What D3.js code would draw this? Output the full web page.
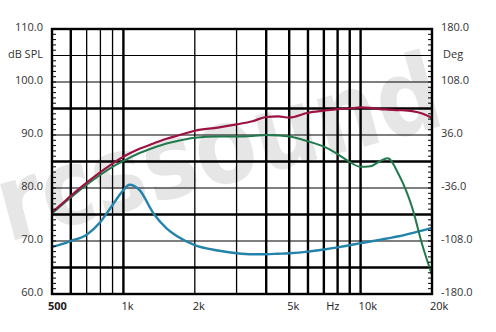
<!DOCTYPE html>
<html>
<head>
<meta charset="utf-8">
<script src="https://cdn.jsdelivr.net/npm/d3@7"></script>
<style>
  body { margin: 0; background: #fff; }
  svg { display: block; }
  text { font-family: "Open Sans", "DejaVu Sans", sans-serif; }
</style>
</head>
<body>
<div id="chart"></div>
<script>
// frequency grid (Hz) shared by all three curves
var freqs = [500, 550, 600, 700, 800, 900, 1000, 1060, 1170, 1340, 1520, 1700, 2000, 2500, 3000, 3500,
             4000, 4500, 5000, 6000, 7000, 8000, 9000, 10000, 11000, 12000, 13000, 14500, 16500, 18300, 20000];

var redSpl = [75.4, 77.0, 78.5, 81.0, 83.0, 84.6, 85.9, 86.5, 87.4, 88.4, 89.3, 89.9, 90.8, 91.4, 92.0, 92.6,
              93.4, 93.5, 93.3, 94.2, 94.6, 94.9, 95.0, 95.2, 95.1, 94.9, 94.8, 94.7, 94.5, 94.0, 93.2];

var greenSpl = [75.2, 76.8, 78.2, 80.6, 82.5, 84.0, 85.1, 85.7, 86.6, 87.6, 88.4, 88.9, 89.5, 89.7, 89.7, 89.8,
                90.0, 89.9, 89.7, 88.8, 87.8, 86.4, 84.9, 84.0, 84.1, 85.0, 85.6, 82.5, 76.3, 68.9, 63.6];

var blueSpl = [68.9, 69.4, 70.0, 71.2, 73.6, 76.8, 79.6, 80.6, 79.6, 75.2, 72.4, 70.8, 69.2, 68.2, 67.7, 67.5,
               67.5, 67.6, 67.7, 68.0, 68.4, 68.8, 69.2, 69.6, 69.9, 70.2, 70.5, 70.9, 71.5, 72.0, 72.5];

var leftTicks = [110, 100, 90, 80, 70, 60];
var rightTicks = [180, 108, 36, -36, -108, -180];
var xLabels = ["500", "1k", "2k", "5k", "Hz", "10k", "20k"];
var xLabelFreqs = [500, 1000, 2000, 5000, 7300, 10000, 20000];
var vGrid = [600, 700, 800, 900, 1000, 2000, 3000, 4000, 5000, 6000, 7000, 8000, 9000, 10000];
var vThick = [600, 1000, 4000, 5000, 6000, 7000, 8000, 9000, 10000];
var hGrid = [65, 70, 75, 80, 85, 90, 95, 100, 105];
var hThick = [65, 75, 85, 95];

var margin = {top: 29, right: 64, bottom: 38, left: 52},
    W = 496, H = 332,
    width = W - margin.left - margin.right,
    height = H - margin.top - margin.bottom;

var xScale = d3.scaleLog().domain([500, 20000]).range([0, width]);
var yScale = d3.scaleLinear().domain([60, 110]).range([height, 0]);
var yPhase = d3.scaleLinear().domain([-180, 180]).range([height, 0]);

var root = d3.select("#chart").append("svg")
    .attr("width", W)
    .attr("height", H);

// watermark behind everything
root.append("text")
    .attr("transform", "translate(8,242) rotate(-15)")
    .attr("textLength", 455)
    .attr("lengthAdjust", "spacingAndGlyphs")
    .style("font-family", "'DejaVu Sans', sans-serif")
    .style("font-weight", "bold")
    .style("font-size", "106px")
    .style("fill", "#e6e6e6")
    .text("rcssound");

var svg = root.append("g")
    .attr("transform", "translate(" + margin.left + "," + margin.top + ")");

// horizontal grid
svg.selectAll(".hgrid").data(hGrid).enter().append("line")
    .attr("x1", 0).attr("x2", width)
    .attr("y1", d => yScale(d)).attr("y2", d => yScale(d))
    .attr("stroke", "#000")
    .attr("stroke-width", d => hThick.indexOf(d) >= 0 ? 2.4 : 1.2);

// vertical grid
svg.selectAll(".vgrid").data(vGrid).enter().append("line")
    .attr("y1", 0).attr("y2", height)
    .attr("x1", d => xScale(d)).attr("x2", d => xScale(d))
    .attr("stroke", "#000")
    .attr("stroke-width", d => vThick.indexOf(d) >= 0 ? 2.4 : 1.3);

// curves
var line = function(vals) {
    return d3.line()
        .x((d, i) => xScale(freqs[i]))
        .y(d => yScale(d))
        .curve(d3.curveMonotoneX)(vals);
};

svg.append("path").attr("d", line(blueSpl))
    .attr("fill", "none").attr("stroke", "#2383ab").attr("stroke-width", 2.4);
svg.append("path").attr("d", line(greenSpl))
    .attr("fill", "none").attr("stroke", "#217a4c").attr("stroke-width", 2);
svg.append("path").attr("d", line(redSpl))
    .attr("fill", "none").attr("stroke", "#9c1242").attr("stroke-width", 2.2);

// frame
svg.append("rect")
    .attr("width", width).attr("height", height)
    .attr("fill", "none").attr("stroke", "#000").attr("stroke-width", 2.4);

// minor ticks inside the frame, 1 dB steps
var minor = d3.range(61, 110);
svg.selectAll(".lt").data(minor).enter().append("line")
    .attr("x1", 0).attr("x2", 4)
    .attr("y1", d => yScale(d)).attr("y2", d => yScale(d))
    .attr("stroke", "#000").attr("stroke-width", 1);
svg.selectAll(".rt").data(minor).enter().append("line")
    .attr("x1", width - 4).attr("x2", width)
    .attr("y1", d => yScale(d)).attr("y2", d => yScale(d))
    .attr("stroke", "#000").attr("stroke-width", 1);

// left labels
svg.selectAll(".ll").data(leftTicks).enter().append("text")
    .attr("x", -9).attr("y", d => yScale(d) + 2)
    .attr("text-anchor", "end")
    .style("font-size", "11px").style("fill", "#333")
    .text(d => d.toFixed(1));
svg.append("text")
    .attr("x", -9).attr("y", yScale(105) + 2)
    .attr("text-anchor", "end")
    .style("font-size", "11px").style("fill", "#333")
    .text("dB SPL");

// right labels
svg.selectAll(".rl").data(rightTicks).enter().append("text")
    .attr("x", width + 9).attr("y", d => yPhase(d) + 2)
    .attr("text-anchor", "start")
    .style("font-size", "11px").style("fill", "#333")
    .text(d => d.toFixed(1));
svg.append("text")
    .attr("x", width + 11).attr("y", yPhase(144) + 2)
    .attr("text-anchor", "start")
    .style("font-size", "11px").style("fill", "#333")
    .text("Deg");

// x labels
svg.selectAll(".xl").data(xLabels).enter().append("text")
    .attr("x", (d, i) => xScale(xLabelFreqs[i]) - (i == 0 ? 4 : 2))
    .attr("y", height + 16)
    .attr("text-anchor", "start")
    .style("font-size", "11px").style("fill", "#222")
    .style("font-weight", (d, i) => i == 0 ? "bold" : "normal")
    .text(d => d);
</script>
</body>
</html>
